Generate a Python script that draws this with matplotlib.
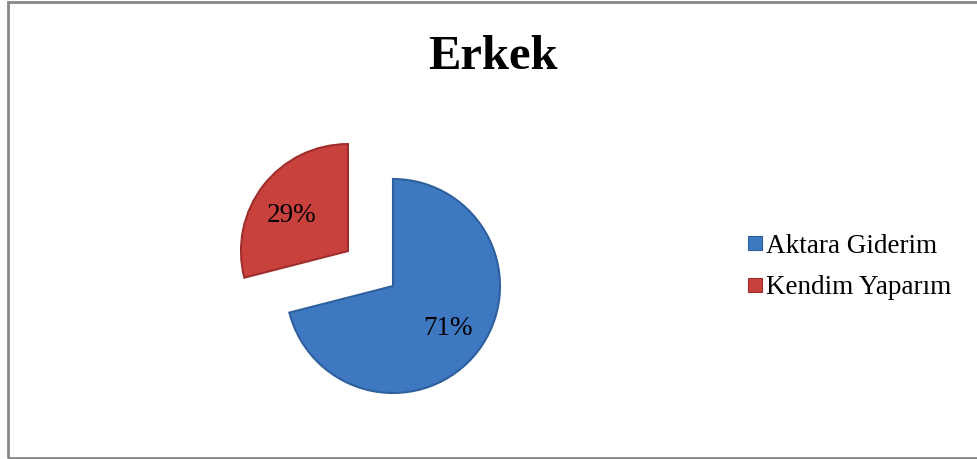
import matplotlib
matplotlib.use("Agg")
import matplotlib.pyplot as plt
from matplotlib.patches import Rectangle
from matplotlib.lines import Line2D

title = "Erkek"
categories = ["Aktara Giderim", "Kendim Yaparım"]
values = [71, 29]
colors = ["#3D78C0", "#C8413D"]
edge_colors = ["#2E5F9E", "#9E2E2B"]
explode = [0.0, 57.0]

W, H = 977, 459
fig = plt.figure(figsize=(W / 100, H / 100), dpi=100)
ax = fig.add_axes([0, 0, 1, 1])

serif = ["Liberation Serif", "DejaVu Serif"]

wedges, texts, autotexts = ax.pie(
    values, colors=colors, explode=explode, startangle=90, counterclock=False,
    center=(393, H - 286), radius=107, autopct="%1.0f%%", pctdistance=0.645,
    wedgeprops=dict(linewidth=1.5), textprops=dict(family=serif, fontsize=19.5, color="black"),
    frame=True,
)
for w, ec in zip(wedges, edge_colors):
    w.set_edgecolor(ec)
# small nudge of the red label toward its visual centre
px, py = autotexts[1].get_position()
autotexts[1].set_position((px - 2, py - 7))
ax.set_xlim(0, W)
ax.set_ylim(0, H)
ax.set_aspect("equal")
ax.axis("off")

fig.text(493 / W, 1 - 57 / H, title, ha="center", va="center",
         family=serif, fontsize=35, fontweight="bold")

handles = [Line2D([0], [0], marker="s", linestyle="none", markersize=9.5,
                  markerfacecolor=c, markeredgecolor=ec, markeredgewidth=0.8)
           for c, ec in zip(colors, edge_colors)]
fig.legend(handles, categories, loc="center left",
           bbox_to_anchor=(733 / W, 1 - 267 / H), frameon=False,
           prop=dict(family=serif, size=19.5), handlelength=0.6,
           handletextpad=0.12, labelspacing=0.62, borderpad=0)

fig.patches.append(Rectangle((7.5 / W, 1.5 / H), 1.2, 455.5 / H, transform=fig.transFigure,
                             fill=False, edgecolor="#888888", linewidth=2))

fig.savefig("out.png", dpi=100)
